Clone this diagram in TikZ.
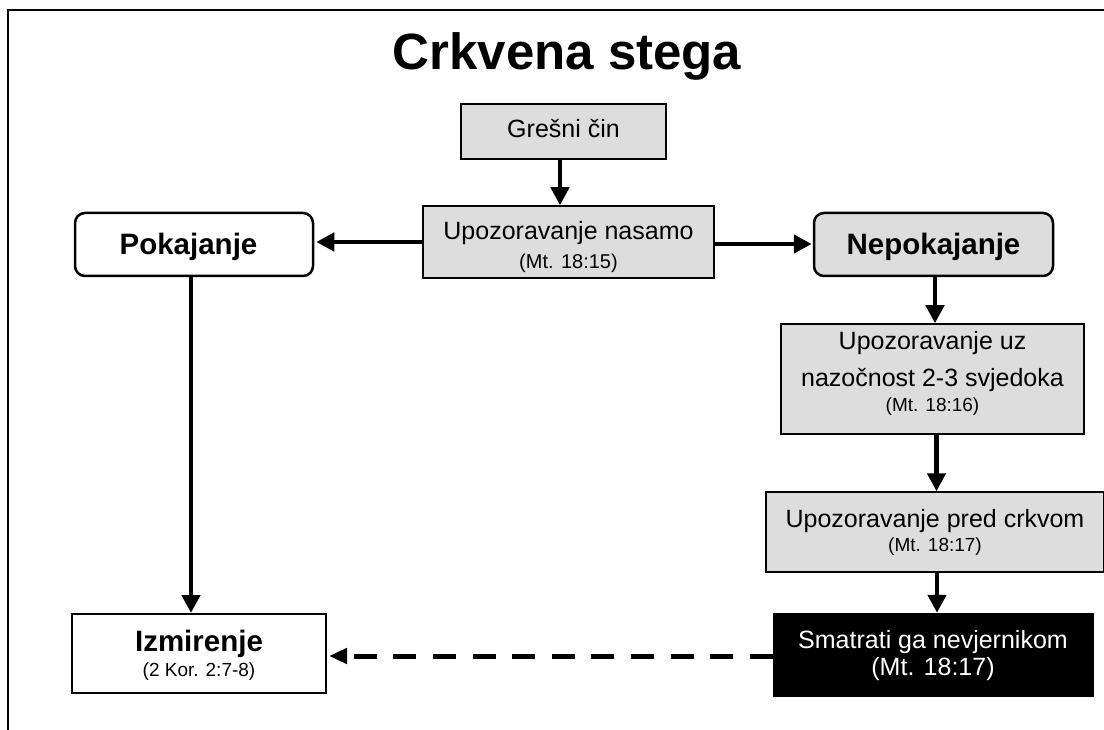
\documentclass[tikz,border=0pt]{standalone}
\usepackage{fontspec}
\setmainfont{Liberation Sans}
\usetikzlibrary{arrows.meta}
\definecolor{boxgray}{HTML}{DDDDDD}
\newcommand\txtreg{\fontsize{25}{30}\selectfont}
\newcommand\txtsmall{\fontsize{19}{23}\selectfont}
\newcommand\txtsmaller{\fontsize{20}{24}\selectfont}
\newcommand\txtbold{\bfseries\fontsize{29.5}{35}\selectfont}
\begin{document}
\begin{tikzpicture}[x=1pt,y=-1pt,
  gbox/.style={draw=black, line width=1.5pt, fill=boxgray, inner sep=0pt, align=center, font=\txtreg, text depth=0pt},
  rbox/.style={draw=black, line width=2.5pt, rounded corners=10pt, inner sep=0pt, align=center, font=\txtbold, text depth=0pt},
  wbox/.style={draw=black, line width=2pt, fill=white, inner sep=0pt, align=center, font=\txtreg, text depth=0pt},
  bbox/.style={draw=black, fill=black, text=white, inner sep=0pt, align=center, font=\txtreg, text depth=0pt},
  arr/.style={line width=4.5pt, -{Triangle[length=18pt,width=18pt]}},
  darr/.style={line width=5pt, dash pattern=on 23pt off 16.6pt, -{Triangle[length=18pt,width=15pt]}, shorten >=2pt}
]
\useasboundingbox (0,0) rectangle (1104,730);
\draw[line width=2pt] (8,740) -- (8,10) -- (1110,10);

\node[anchor=base, font=\bfseries\fontsize{51}{60}\selectfont] (title) at (567,70) {Crkvena stega};

\node[gbox, minimum width=205, minimum height=55, text height=11.6pt] (gresni) at (563.5,131.5) {Grešni čin};
\node[gbox, minimum width=291, minimum height=72, text height=54pt] (nasamo) at (568.5,242) {Upozoravanje nasamo\\[-1pt]{\txtsmaller (Mt. 18:15)}};
\node[rbox, minimum width=238, minimum height=63, fill=white, text height=21pt] (pok) at (194,244.5) {\hspace*{-11pt}Pokajanje};
\node[rbox, minimum width=239, minimum height=63, fill=boxgray, text height=21pt] (nepok) at (933.5,244.5) {Nepokajanje};
\node[gbox, minimum width=303, minimum height=110, text height=65.4pt] (uz) at (932.5,379) {Upozoravanje uz\\[7pt]nazočnost 2-3 svjedoka\\[-5pt]{\txtsmall (Mt. 18:16)}};
\node[gbox, minimum width=338, minimum height=80, text height=39.4pt] (pred) at (935,532) {Upozoravanje pred crkvom\\[-5.6pt]{\txtsmall (Mt. 18:17)}};
\node[bbox, minimum width=320, minimum height=83, text height=41pt] (smatrati) at (933,654.5) {Smatrati ga nevjernikom\\[-3.3pt](Mt. 18:17)};
\node[wbox, minimum width=254, minimum height=79, text height=46.4pt] (izm) at (199,653.5) {{\txtbold Izmirenje}\\[-5pt]{\txtsmall (2 Kor. 2:7-8)}};

\coordinate (g1) at ([xshift=-3.5pt]gresni.south);
\draw[arr] (g1) -- (g1 |- nasamo.north);
\draw[arr, shorten >=2pt] (nasamo.west) -- (nasamo.west -| pok.east);
\draw[arr, shorten >=1pt] ([yshift=-2pt]nasamo.east) -- ([yshift=-2pt]nasamo.east -| nepok.west);
\coordinate (n1) at ([xshift=1.5pt]nepok.south);
\draw[arr] (n1) -- (n1 |- uz.north);
\coordinate (u1) at ([xshift=4pt]uz.south);
\draw[arr] (u1) -- (u1 |- pred.north);
\coordinate (p1) at ([xshift=2pt]pred.south);
\draw[arr] (p1) -- (p1 |- smatrati.north);
\coordinate (k1) at ([xshift=-3pt]pok.south);
\draw[arr] (k1) -- (k1 |- izm.north);
\draw[darr] ([yshift=-1.5pt]smatrati.west) -- ([yshift=-1.5pt]smatrati.west -| izm.east);
\end{tikzpicture}
\end{document}
